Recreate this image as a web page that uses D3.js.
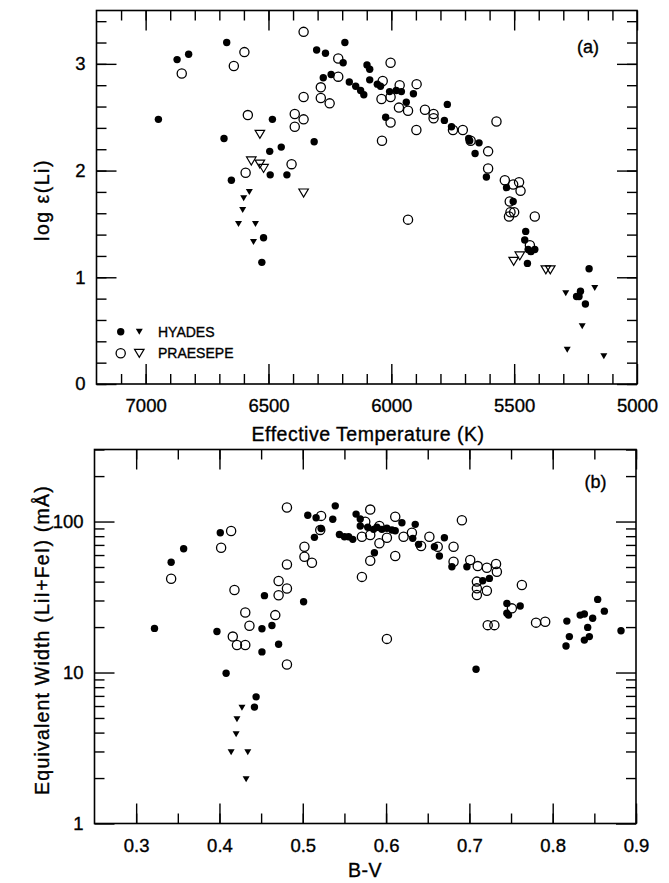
<!DOCTYPE html>
<html><head><meta charset="utf-8">
<script src="https://cdn.jsdelivr.net/npm/d3@7"></script>
<style>
body{margin:0;background:#fff}
text{font-family:"Liberation Sans",Arial,Helvetica,sans-serif;fill:#000;stroke:#000;stroke-width:0.35px}
</style>
</head><body>
<svg id="c" width="669" height="883"></svg>
<script>
// ---------- Panel (a): Teff vs log eps(Li) ----------
const hyadesA = [[6670,3.20],[6872,3.04],[6825,3.09],[6948,2.48],[6484,2.48],[6681,2.30],[6495,2.18],[6448,2.22],
 [6493,1.96],[6425,1.96],[6651,1.91],[6304,3.13],[6268,3.10],[6189,3.20],[6196,3.01],[6099,2.99],[6088,2.95],
 [6277,2.87],[6245,2.90],[6171,2.83],[6145,2.79],[6125,2.75],[6112,2.71],[6088,2.85],[6057,2.81],[6044,2.79],
 [6007,2.74],[5980,2.75],[5959,2.74],[5910,2.72],[5939,2.64],[6023,2.50],[6314,2.27],[5772,2.62],[5784,2.47],
 [5755,2.41],[5685,2.30],[5659,2.16],[5681,2.28],[5643,2.26],[5613,1.94],[5531,1.84],[5504,1.71],[5453,1.43],
 [5457,1.35],[5443,1.26],[5416,1.26],[5432,1.24],[5446,1.13],[5195,1.08],[5230,0.87],[5246,0.82],[5236,0.82],
 [5210,0.75],[6520,1.37],[6527,1.14]];
const hyadesLimA = [[6578,1.80],[6601,1.74],[6605,1.63],[6622,1.50],[6553,1.50],[6561,1.33],
 [5290,0.85],[5172,0.90],[5223,0.54],[5284,0.32],[5135,0.26]];
const praesepeA = [[6598,3.11],[6853,2.91],[6641,2.98],[6584,2.52],[6593,1.98],[6357,3.30],[6216,3.05],[6003,3.01],
 [6216,2.88],[6035,2.84],[5966,2.80],[5897,2.81],[6040,2.67],[6003,2.69],[5969,2.59],[5932,2.56],[6287,2.78],
 [6287,2.68],[6251,2.63],[6357,2.69],[6393,2.53],[6393,2.41],[6357,2.48],[6003,2.45],[5898,2.38],[6038,2.28],
 [6406,2.06],[5863,2.57],[5828,2.53],[5828,2.49],[5749,2.38],[5709,2.38],[5677,2.28],[5572,2.46],[5606,2.18],
 [5606,2.02],[5538,1.91],[5504,1.87],[5480,1.89],[5474,1.81],[5518,1.71],[5515,1.61],[5521,1.57],[5500,1.61],
 [5416,1.57],[5436,1.30],[5932,1.54]];
const praesepeLimA = [[6535,2.34],[6570,2.09],[6535,2.06],[6520,2.02],[6357,1.79],[5502,1.15],[5477,1.20],
 [5371,1.07],[5353,1.07]];
const teffTicks = [7000,6500,6000,5500,5000];
const liTicks = [0,1,2,3];

// ---------- Panel (b): B-V vs equivalent width ----------
const hyadesB = [[0.322,19.6],[0.342,53.7],[0.357,66],[0.401,84.3],[0.397,18.7],[0.451,19.5],[0.463,20.5],
 [0.454,32.3],[0.471,15.4],[0.451,13.7],[0.408,9.9],[0.444,6.9],[0.442,5.9],[0.506,110],[0.516,106],[0.522,90],
 [0.539,127],[0.536,103.5],[0.514,78.6],[0.501,29.4],[0.544,82],[0.550,79.3],[0.555,79.3],[0.560,76.2],
 [0.564,112],[0.569,104],[0.569,93.4],[0.578,91.6],[0.585,88.8],[0.589,91.6],[0.595,88.8],[0.601,90.2],
 [0.607,87.9],[0.611,86.9],[0.586,62.1],[0.619,98.2],[0.635,95.8],[0.632,77.4],[0.639,70.6],[0.658,68.1],
 [0.664,59.1],[0.670,78.1],[0.679,50.2],[0.697,50.2],[0.716,40.5],[0.724,42],[0.745,28.7],[0.761,27.6],
 [0.745,24.7],[0.747,24],[0.708,10.5],[0.817,21.9],[0.820,17.3],[0.833,24],[0.838,24.4],[0.848,22.9],
 [0.854,30.5],[0.862,25.5],[0.842,19.9],[0.844,17.3],[0.838,16.4],[0.882,18.9],[0.816,15]];
const hyadesLimB = [[0.427,5.85],[0.421,4.9],[0.420,3.9],[0.414,2.96],[0.434,2.96],[0.432,1.96]];
const praesepeB = [[0.342,41.8],[0.414,86.5],[0.402,67],[0.418,35.2],[0.416,17.3],[0.431,25],[0.436,20.4],
 [0.467,24],[0.471,40.4],[0.471,32.5],[0.481,52],[0.481,124],[0.481,36],[0.421,15.2],[0.431,15.2],[0.481,11.3],
 [0.522,109],[0.521,88],[0.502,68],[0.502,58.5],[0.511,53.3],[0.581,120],[0.575,99.7],[0.571,79.3],[0.581,81.4],
 [0.592,93.4],[0.601,78.1],[0.592,71.8],[0.581,55],[0.571,43],[0.611,59.1],[0.611,107.6],[0.601,16.7],
 [0.621,79.3],[0.631,84.3],[0.642,68.8],[0.652,79.3],[0.662,68.1],[0.681,68.1],[0.691,102],[0.681,54.2],
 [0.701,55.6],[0.710,50.7],[0.709,40],[0.709,36.1],[0.709,32.6],[0.721,49.4],[0.732,52.3],[0.733,46.5],
 [0.721,34.8],[0.763,38],[0.751,26.6],[0.722,20.6],[0.730,20.6],[0.780,21.4],[0.791,21.7]];
const bvTicks = [0.3,0.4,0.5,0.6,0.7,0.8,0.9];
const ewTicks = [1,10,100];

// ---------- drawing ----------
const svg = d3.select("#c");
const TICK_FONT = 18.5;

function triPath(w,h){return `M${-w/2},${-h/2}L${w/2},${-h/2}L0,${h/2}Z`;}

function drawMarkers(g, x, y, filled, open, filledLim, openLim){
  g.selectAll(null).data(open).join("circle")
    .attr("cx",d=>x(d[0])).attr("cy",d=>y(d[1])).attr("r",4.6)
    .attr("fill","none").attr("stroke","#000").attr("stroke-width",1.3);
  g.selectAll(null).data(openLim).join("path")
    .attr("d",triPath(9.5,8)).attr("transform",d=>`translate(${x(d[0])},${y(d[1])})`)
    .attr("fill","none").attr("stroke","#000").attr("stroke-width",1.2);
  g.selectAll(null).data(filled).join("circle")
    .attr("cx",d=>x(d[0])).attr("cy",d=>y(d[1])).attr("r",3.7).attr("fill","#000");
  g.selectAll(null).data(filledLim).join("path")
    .attr("d",triPath(7,6)).attr("transform",d=>`translate(${x(d[0])},${y(d[1])})`)
    .attr("fill","#000");
}

function styleAxis(g){
  g.select(".domain").remove();
  g.selectAll(".tick line").attr("stroke","#000").attr("stroke-width",1.4);
  g.selectAll(".tick text").attr("font-size",TICK_FONT).attr("fill","#000")
    .style("font-family","'Liberation Sans',Arial,sans-serif");
}

function frame(x0,x1,y0,y1){
  svg.append("rect").attr("x",x0).attr("y",y1).attr("width",x1-x0).attr("height",y0-y1)
    .attr("fill","none").attr("stroke","#000").attr("stroke-width",1.6);
}

function boxAxes(x, y, xMajor, xMinor, yMajor, yMinor, xFmt, yFmt){
  const [X0,X1] = x.range(), [Y0,Y1] = y.range();
  const mk = (axis, tr, vals, size, fmt, pad) => {
    const g = svg.append("g").attr("transform",tr)
      .call(axis.tickValues(vals).tickSize(-size).tickSizeOuter(0).tickPadding(pad||0).tickFormat(fmt||""));
    styleAxis(g);
    return g;
  };
  mk(d3.axisBottom(x), `translate(0,${Y0})`, xMinor, 10);
  mk(d3.axisBottom(x), `translate(0,${Y0})`, xMajor, 20, xFmt, 15);
  mk(d3.axisTop(x), `translate(0,${Y1})`, xMinor, 10);
  mk(d3.axisTop(x), `translate(0,${Y1})`, xMajor, 20);
  mk(d3.axisLeft(y), `translate(${X0},0)`, yMinor, 10);
  mk(d3.axisLeft(y), `translate(${X0},0)`, yMajor, 20, yFmt, 11);
  mk(d3.axisRight(y), `translate(${X1},0)`, yMinor, 10);
  mk(d3.axisRight(y), `translate(${X1},0)`, yMajor, 20);
  frame(X0,X1,Y0,Y1);
}

// Panel (a)
const xA = d3.scaleLinear().domain([7200,5000]).range([96.5,637]);
const yA = d3.scaleLinear().domain([0,3.5]).range([384,10.5]);
boxAxes(xA, yA, teffTicks, d3.range(5100,7200,100), liTicks, d3.range(0,3.5,0.2).map(v=>+v.toFixed(1)),
  d3.format("d"), d3.format("d"));
drawMarkers(svg.append("g"), xA, yA, hyadesA, praesepeA, hyadesLimA, praesepeLimA);

svg.append("text").attr("x",588).attr("y",53).attr("text-anchor","middle").attr("font-size",18).text("(a)");
svg.append("text").attr("x",368).attr("y",441).attr("text-anchor","middle").attr("font-size",19.5)
  .attr("letter-spacing",0.5).text("Effective Temperature (K)");
svg.append("text").attr("transform","translate(49,200) rotate(-90)").attr("text-anchor","middle")
  .attr("font-size",19.5).attr("letter-spacing",1.5).text("log ε(Li)");

// legend
const leg = svg.append("g");
const legItems = [{y:331.7, filled:true, label:"HYADES"},{y:353.3, filled:false, label:"PRAESEPE"}];
legItems.forEach(it=>{
  if(it.filled){
    leg.append("circle").attr("cx",120.7).attr("cy",it.y).attr("r",3.7).attr("fill","#000");
    leg.append("path").attr("d",triPath(7,6)).attr("transform",`translate(139.3,${it.y})`).attr("fill","#000");
  } else {
    leg.append("circle").attr("cx",120.7).attr("cy",it.y).attr("r",4.6).attr("fill","none")
      .attr("stroke","#000").attr("stroke-width",1.3);
    leg.append("path").attr("d",triPath(9.5,8)).attr("transform",`translate(139.3,${it.y})`)
      .attr("fill","none").attr("stroke","#000").attr("stroke-width",1.2);
  }
  leg.append("text").attr("x",158).attr("y",it.y+5).attr("font-size",14).text(it.label);
});

// Panel (b)
const xB = d3.scaleLinear().domain([0.25,0.9]).range([94.5,636]);
const yB = d3.scaleLog().domain([1,300]).range([823.5,449.5]);
const bvMinor = d3.range(6,19).map(i=>+(i*0.05).toFixed(2));
const ewMinor = [2,3,4,5,6,7,8,9,20,30,40,50,60,70,80,90,200,300];
boxAxes(xB, yB, bvTicks, bvMinor, ewTicks, ewMinor, d3.format(".1f"), d3.format("d"));
drawMarkers(svg.append("g"), xB, yB, hyadesB, praesepeB, hyadesLimB, []);

svg.append("text").attr("x",595.5).attr("y",488).attr("text-anchor","middle").attr("font-size",18).text("(b)");
svg.append("text").attr("x",365).attr("y",877).attr("text-anchor","middle").attr("font-size",19.5)
  .attr("letter-spacing",0.5).text("B-V");
svg.append("text").attr("transform","translate(49,640) rotate(-90)").attr("text-anchor","middle")
  .attr("font-size",19.5).attr("letter-spacing",1.2).text("Equivalent Width (LiI+FeI) (mÅ)");
</script>
</body></html>
